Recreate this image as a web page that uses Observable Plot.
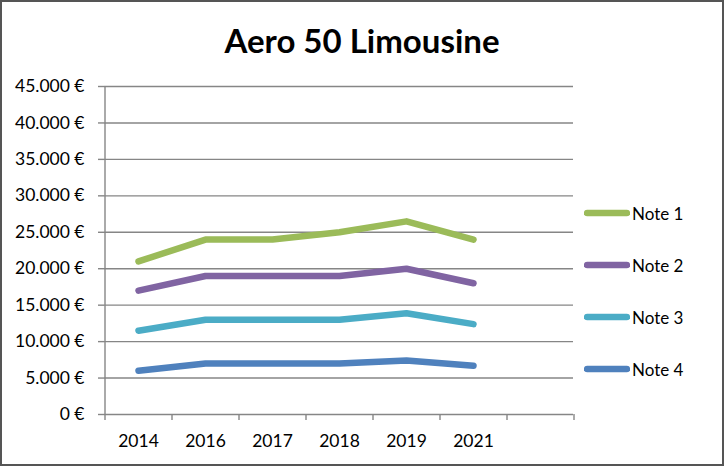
<!DOCTYPE html>
<html>
<head>
<meta charset="utf-8">
<script src="https://cdn.jsdelivr.net/npm/d3@7"></script>
<script src="https://cdn.jsdelivr.net/npm/@observablehq/plot@0.6"></script>
<style>
  html, body { margin: 0; padding: 0; background: #fff; }
  #wrap { position: relative; width: 724px; height: 466px; overflow: hidden; background: #fff; font-family: Lato, "Open Sans", sans-serif; }
  #wrap::after { content: ""; position: absolute; inset: 0; border: 2px solid #555; pointer-events: none; }
  #title { height: 70px; box-sizing: border-box; padding-top: 24px; text-align: center; font-weight: bold; font-size: 33px; line-height: 1; color: #000; }
  #legend { position: absolute; left: 584px; top: 0; }
  .item { position: absolute; left: 0; display: flex; align-items: center; white-space: nowrap; font-size: 17px; color: #000; height: 20px; margin-top: -10px; }
  .item svg { display: block; margin-right: 2px; }
</style>
</head>
<body>
<div id="wrap">
  <div id="title"></div>
  <div id="chart"></div>
  <div id="legend"></div>
</div>
<script>
const title = "Aero 50 Limousine";
const years = ["2014", "2016", "2017", "2018", "2019", "2021"];
const slots = [...years, ""]; // the chart keeps an empty 7th category slot
const seriesNames = ["Note 1", "Note 2", "Note 3", "Note 4"];
const note1 = [21000, 24000, 24000, 25000, 26500, 24000];
const note2 = [17000, 19000, 19000, 19000, 20000, 18000];
const note3 = [11500, 13000, 13000, 13000, 13900, 12400];
const note4 = [6000, 7000, 7000, 7000, 7400, 6700];
const colors = ["#9BBB59", "#8064A2", "#4BACC6", "#4F81BD"];
const yTicks = [0, 5000, 10000, 15000, 20000, 25000, 30000, 35000, 40000, 45000];

const values = [note1, note2, note3, note4];
const rows = [];
seriesNames.forEach((s, i) => years.forEach((y, j) => rows.push({series: s, year: y, value: values[i][j]})));

const fmt = d3.formatLocale({decimal: ",", thousands: ".", grouping: [3], currency: ["", " €"]}).format("$,");
const grid = "#868686";
const half = 33.5;

document.getElementById("title").textContent = title;

const chart = Plot.plot({
  width: 580,
  height: 396,
  marginLeft: 104,
  marginRight: 7,
  marginTop: 16,
  marginBottom: 52,
  style: {fontFamily: "Lato, 'Open Sans', sans-serif", fontSize: "17.5px", color: "#000", background: "#fff"},
  x: {type: "point", domain: slots, padding: 0.5},
  y: {domain: [0, 45000]},
  color: {domain: seriesNames, range: colors},
  marks: [
    Plot.ruleY(yTicks.slice(1), {stroke: grid, strokeWidth: 1.4}),
    Plot.ruleY([0], {stroke: grid, strokeWidth: 1.4}),
    Plot.ruleX([slots[0]], {dx: -half, stroke: grid, strokeWidth: 1.4}),
    Plot.axisY({ticks: yTicks, tickFormat: fmt, tickSize: 6, tickPadding: 14, stroke: grid, strokeWidth: 1.4, label: null, fontSize: 17.5}),
    Plot.axisX({ticks: years, tickSize: 0, tickPadding: 20, label: null, fontSize: 17.5}),
    Plot.axisX({ticks: slots, tickSize: 6, dx: -half, text: null, stroke: grid, strokeWidth: 1.4, label: null}),
    Plot.axisX({ticks: [slots[slots.length - 1]], tickSize: 6, dx: half, text: null, stroke: grid, strokeWidth: 1.4, label: null}),
    Plot.line(rows, {x: "year", y: "value", z: "series", stroke: "series", strokeWidth: 6.5, strokeLinecap: "round", strokeLinejoin: "round"})
  ]
});
document.getElementById("chart").appendChild(chart);

const legendTops = [213, 265, 317, 369];
const legend = document.getElementById("legend");
seriesNames.forEach((s, i) => {
  const item = document.createElement("div");
  item.className = "item";
  item.style.top = legendTops[i] + "px";
  item.innerHTML = `<svg width="46" height="8"><line x1="3" y1="4" x2="43" y2="4" stroke="${colors[i]}" stroke-width="6.5" stroke-linecap="round"/></svg><span>${s}</span>`;
  legend.appendChild(item);
});
</script>
</body>
</html>
